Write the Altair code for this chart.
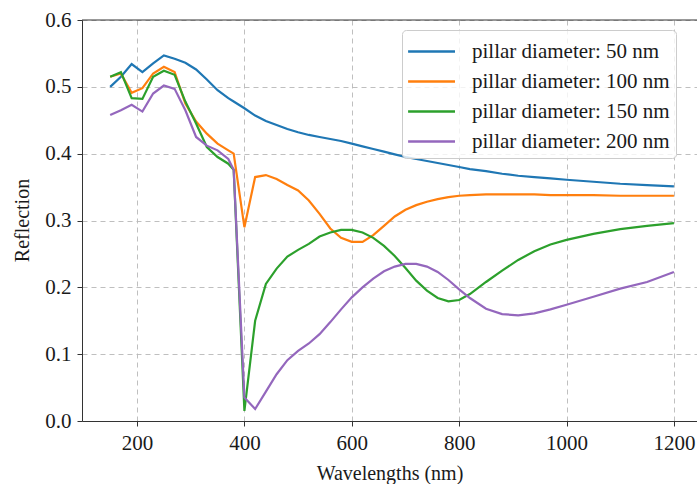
import altair as alt
import pandas as pd

wavelengths = [150, 170, 190, 210, 230, 250, 270, 290, 310, 330, 350, 370, 380, 400,
               420, 440, 460, 480, 500, 520, 540, 560, 580, 600, 620, 640, 660, 680,
               700, 720, 740, 760, 780, 800, 820, 850, 880, 910, 940, 970, 1000,
               1050, 1100, 1150, 1200]

d50 = [0.500, 0.515, 0.534, 0.522, 0.535, 0.547, 0.542, 0.536, 0.526, 0.511, 0.495,
       0.483, 0.478, 0.468, 0.457, 0.449, 0.443, 0.437, 0.432, 0.428, 0.425, 0.422,
       0.419, 0.415, 0.411, 0.407, 0.403, 0.399, 0.395, 0.392, 0.389, 0.386, 0.383,
       0.380, 0.377, 0.374, 0.370, 0.367, 0.365, 0.363, 0.361, 0.358, 0.355, 0.353,
       0.351]
d100 = [0.515, 0.520, 0.491, 0.498, 0.520, 0.530, 0.522, 0.475, 0.448, 0.430, 0.415,
        0.405, 0.400, 0.290, 0.365, 0.368, 0.362, 0.353, 0.345, 0.330, 0.310, 0.288,
        0.274, 0.268, 0.268, 0.278, 0.292, 0.306, 0.316, 0.323, 0.328, 0.332, 0.335,
        0.337, 0.338, 0.339, 0.339, 0.339, 0.339, 0.338, 0.338, 0.338, 0.337, 0.337,
        0.337]
d150 = [0.515, 0.522, 0.483, 0.482, 0.515, 0.524, 0.518, 0.478, 0.445, 0.410, 0.395,
        0.385, 0.376, 0.015, 0.150, 0.205, 0.228, 0.246, 0.256, 0.265, 0.276, 0.282,
        0.286, 0.286, 0.282, 0.274, 0.262, 0.247, 0.229, 0.210, 0.195, 0.184, 0.179,
        0.181, 0.190, 0.208, 0.225, 0.241, 0.254, 0.264, 0.271, 0.280, 0.287, 0.292,
        0.296]
d200 = [0.458, 0.465, 0.473, 0.463, 0.490, 0.502, 0.497, 0.465, 0.425, 0.412, 0.405,
        0.392, 0.376, 0.035, 0.018, 0.044, 0.070, 0.091, 0.105, 0.116, 0.130, 0.148,
        0.167, 0.185, 0.200, 0.213, 0.224, 0.231, 0.235, 0.235, 0.231, 0.223, 0.211,
        0.197, 0.184, 0.168, 0.160, 0.158, 0.161, 0.167, 0.174, 0.186, 0.198, 0.208,
        0.223]

series_names = ["pillar diameter: 50 nm", "pillar diameter: 100 nm",
                "pillar diameter: 150 nm", "pillar diameter: 200 nm"]
series_values = [d50, d100, d150, d200]
colors = ["#1f77b4", "#ff7f0e", "#2ca02c", "#9467bd"]
x_ticks = [200, 400, 600, 800, 1000, 1200]
y_ticks = [0.0, 0.1, 0.2, 0.3, 0.4, 0.5, 0.6]

rows = []
for name, vals in zip(series_names, series_values):
    for w, v in zip(wavelengths, vals):
        rows.append({"wavelength": w, "reflection": v, "series": name})
df = pd.DataFrame(rows)

FONT = "Liberation Serif"

lines = alt.Chart(df).mark_line(strokeWidth=2.2, clip=True).encode(
    x=alt.X("wavelength:Q",
            scale=alt.Scale(domain=[97.5, 1243], nice=False, zero=False),
            axis=alt.Axis(values=x_ticks, title="Wavelengths (nm)", format="d",
                          titleY=52, titleBaseline="middle")),
    y=alt.Y("reflection:Q",
            scale=alt.Scale(domain=[0, 0.6], nice=False),
            axis=alt.Axis(values=y_ticks, title="Reflection", format=".1f",
                          titleX=-60, titleY=200, titleBaseline="middle")),
    color=alt.Color("series:N",
                    scale=alt.Scale(domain=series_names, range=colors),
                    legend=alt.Legend(title=None, orient="none", legendX=320, legendY=10,
                                      symbolType="M-1.1,0L2.25,0", symbolSize=784,
                                      symbolStrokeWidth=2.5, rowPadding=4,
                                      labelOffset=33, padding=6, labelLimit=400,
                                      labelFontSize=21, labelFont=FONT,
                                      labelColor="#1a1a1a",
                                      fillColor="rgba(255,255,255,0.8)",
                                      strokeColor="#cccccc", cornerRadius=4)),
    order=alt.Order("wavelength:Q"),
)

top = alt.Chart(pd.DataFrame({"y": [0.6]})).mark_rule(color="#333333", strokeWidth=1).encode(
    y=alt.Y("y:Q")
)

chart = alt.layer(lines, top).properties(
    width=615, height=401,
    autosize=alt.AutoSizeParams(type="none"),
    padding={"left": 82, "top": 20, "right": 0, "bottom": 63},
).configure_view(stroke=None).configure_axis(
    labelFont=FONT, titleFont=FONT, labelFontSize=21, titleFontSize=20,
    labelColor="#1a1a1a", titleColor="#1a1a1a", titleFontWeight="normal",
    domainColor="#333333", tickColor="#333333", tickSize=5, domainWidth=1,
    labelPadding=6, gridDash=[5, 4], gridColor="#b8b8b8", gridWidth=0.9,
)

chart.save("out.html", embed_options={"renderer": "svg", "actions": False})
